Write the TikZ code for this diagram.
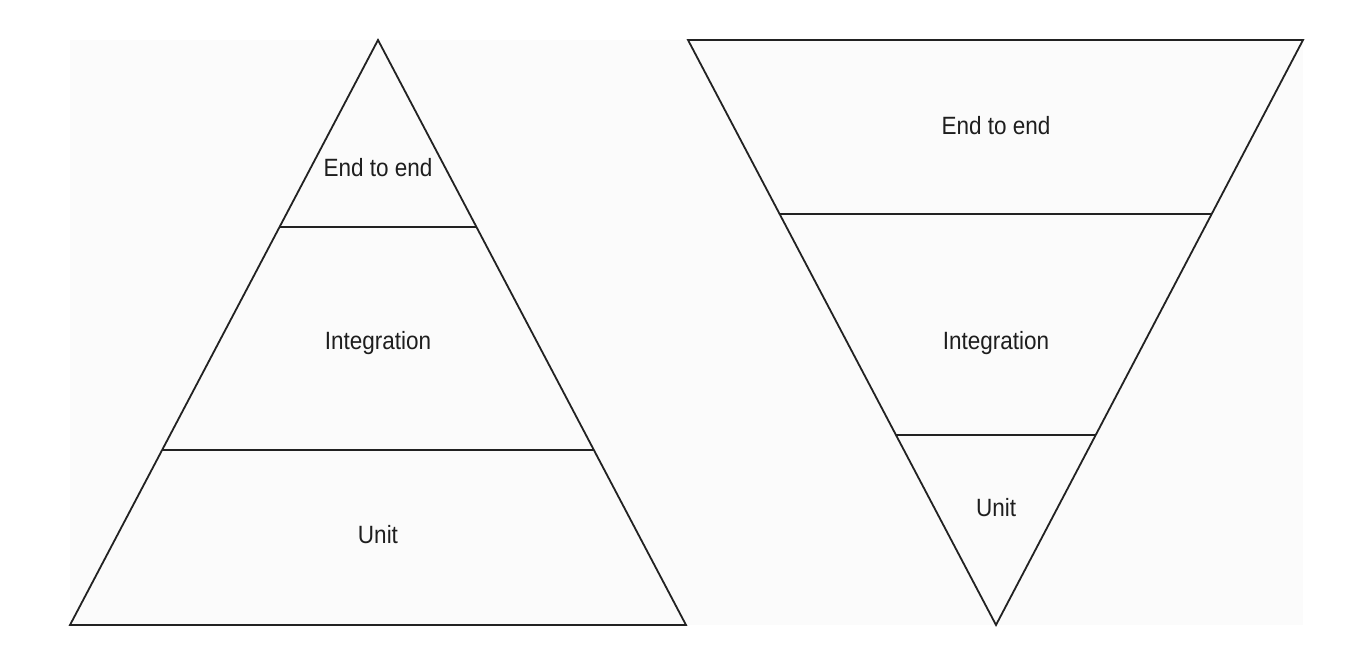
\documentclass[tikz,border=0pt]{standalone}
\usepackage{fontspec}
\setmainfont{Liberation Sans}[FakeStretch=0.9]
\definecolor{bgpanel}{HTML}{FBFBFB}
\definecolor{ink}{HTML}{222222}
\definecolor{txt}{HTML}{1E1E1E}
\begin{document}
\begin{tikzpicture}[x=1pt,y=-1pt,
  edge/.style={draw=ink,line width=1.8pt,line join=miter},
  lbl/.style={text=txt,font=\fontsize{25}{29}\selectfont,inner sep=0pt,anchor=center}]
\useasboundingbox (0,0) rectangle (1360,658);
\fill[white] (0,0) rectangle (1360,658);
\fill[bgpanel] (70,40) rectangle (1303,625);
% left pyramid
\coordinate (LA) at (378,40);
\coordinate (LL) at (70,625);
\coordinate (LR) at (686,625);
\draw[edge] (LA) -- (LR) -- (LL) -- cycle;
\path (LA) -- (LL) coordinate[pos=0.3197] (L1a) coordinate[pos=0.7009] (L2a);
\path (LA) -- (LR) coordinate[pos=0.3197] (L1b) coordinate[pos=0.7009] (L2b);
\draw[edge] (L1a) -- (L1b);
\draw[edge] (L2a) -- (L2b);
\node[lbl] (le2e) at (378,168) {End to end};
\node[lbl] (lint) at (378,343) {Integration};
\node[lbl] (lunit) at (378,535) {Unit};
% right inverted pyramid
\coordinate (RA) at (996,625);
\coordinate (RL) at (688,40);
\coordinate (RR) at (1303,40);
\draw[edge] (RA) -- (RL) -- (RR) -- cycle;
\path (RL) -- (RA) coordinate[pos=0.2974] (R1a) coordinate[pos=0.6752] (R2a);
\path (RR) -- (RA) coordinate[pos=0.2974] (R1b) coordinate[pos=0.6752] (R2b);
\draw[edge] (R1a) -- (R1b);
\draw[edge] (R2a) -- (R2b);
\node[lbl] (re2e) at (996,126) {End to end};
\node[lbl] (rint) at (996,343) {Integration};
\node[lbl] (runit) at (996,508) {Unit};
\end{tikzpicture}
\end{document}
